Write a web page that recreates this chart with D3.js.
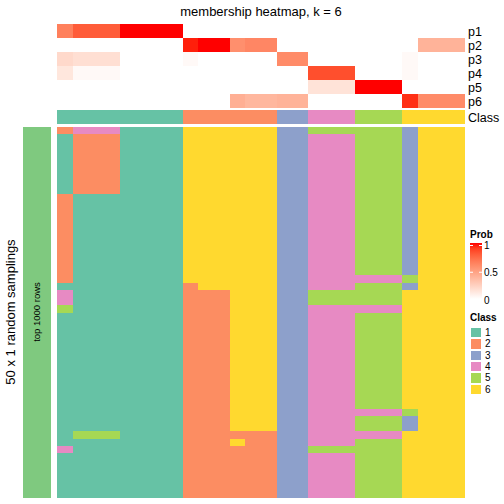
<!DOCTYPE html>
<html><head><meta charset="utf-8">
<script src="https://cdn.jsdelivr.net/npm/d3@7"></script>
<style>body{margin:0;background:#fff}svg{display:block}text{font-family:"Liberation Sans",Arial,sans-serif}rect{shape-rendering:crispEdges}</style>
</head><body><svg id="c" width="504" height="504"></svg>
<script>
// ---- data ----
const title = "membership heatmap, k = 6";
const probNames = ["p1","p2","p3","p4","p5","p6"];
const p1 = [0.65,0.8,0.8,0.8,1,1,1,1,0,0,0,0,0,0,0,0,0,0,0,0,0,0,0,0,0,0];
const p2 = [0,0,0,0,0,0,0,0,0.97,1,1,0.58,0.62,0.62,0,0,0,0,0,0,0,0,0,0.4,0.4,0.4];
const p3 = [0.2,0.17,0.17,0.17,0,0,0,0,0.03,0,0,0,0,0,0.6,0.6,0,0,0,0,0,0,0.03,0,0,0];
const p4 = [0.13,0.03,0.03,0.03,0,0,0,0,0,0,0,0,0,0,0,0,0.85,0.85,0.85,0,0,0,0.03,0,0,0];
const p5 = [0,0,0,0,0,0,0,0,0,0,0,0,0,0,0,0,0.15,0.15,0.15,1,1,1,0,0,0,0];
const p6 = [0,0,0,0,0,0,0,0,0,0,0,0.42,0.38,0.38,0.4,0.4,0,0,0,0,0,0,0.94,0.6,0.6,0.6];
const classAnno = [1,1,1,1,1,1,1,1,2,2,2,2,2,2,3,3,4,4,4,5,5,5,6,6,6,6];
const classLevels = ["1","2","3","4","5","6"];
const classColors = ["#66C2A5","#FC8D62","#8DA0CB","#E78AC3","#A6D854","#FFD92F"];
const samplingRows = [
"24441111666666335555553666",
"12221111666666334445553666",
"12221111666666334445553666",
"12221111666666334445553666",
"12221111666666334445553666",
"12221111666666334445553666",
"12221111666666334445553666",
"12221111666666334445553666",
"12221111666666334445553666",
"21111111666666334445553666",
"21111111666666334445553666",
"21111111666666334445553666",
"21111111666666334445553666",
"21111111666666334445553666",
"21111111666666334445553666",
"21111111666666334445553666",
"21111111666666334445553666",
"21111111666666334445553666",
"21111111666666334445553666",
"21111111666666334445553666",
"21111111666666334444445666",
"11111111266666334445553666",
"41111111222666335555556666",
"41111111222666335555556666",
"51111111222666334444446666",
"11111111222666334445556666",
"11111111222666334445556666",
"11111111222666334445556666",
"11111111222666334445556666",
"11111111222666334445556666",
"11111111222666334445556666",
"11111111222666334445556666",
"11111111222666334445556666",
"11111111222666334445556666",
"11111111222666334445556666",
"11111111222666334445556666",
"11111111222666334445556666",
"11111111222666334445556666",
"11111111222666334444445666",
"11111111222666334445553666",
"11111111222666334445553666",
"15551111222222334444446666",
"11111111222622334445556666",
"41111111222222335555556666",
"11111111222222334445556666",
"11111111222222334445556666",
"11111111222222334445556666",
"11111111222222334445556666",
"11111111222222334445556666",
"11111111222222334445556666"
];
const probTicks = [0, 0.5, 1];

// ---- drawing ----
const svg = d3.select("#c");
const probs = [p1,p2,p3,p4,p5,p6];
const nCol = classAnno.length;
const x = d3.scaleBand().domain(d3.range(nCol)).range([57,465]);
const yP = d3.scaleBand().domain(probNames).range([24,108]);
const yM = d3.scaleBand().domain(d3.range(samplingRows.length)).range([127,498]);
const probColor = d3.scaleLinear().domain([0,1]).range(["#FFFFFF","#FF0000"]).interpolate(d3.interpolateLab);
const classColor = d3.scaleOrdinal().domain(classLevels).range(classColors);
const cx = i => Math.round(x(i));
const cw = i => Math.round(x(i)+x.bandwidth()) - Math.round(x(i));
const ry = i => Math.round(yM(i));
const rh = i => Math.round(yM(i)+yM.bandwidth()) - Math.round(yM(i));

svg.append("text").attr("x",261).attr("y",16).attr("text-anchor","middle")
  .attr("font-size",13).text(title);

// probability rows
probs.forEach((arr,pi)=>{
  svg.append("g").selectAll("rect").data(arr).join("rect")
    .attr("x",(d,i)=>cx(i)).attr("width",(d,i)=>cw(i))
    .attr("y",yP(probNames[pi])).attr("height",yP.bandwidth())
    .attr("fill",d=>probColor(d));
  svg.append("text").attr("x",468).attr("y",yP(probNames[pi])+yP.bandwidth()/2+4.5)
    .attr("font-size",12.5).text(probNames[pi]);
});
// class annotation
svg.append("g").selectAll("rect").data(classAnno).join("rect")
  .attr("x",(d,i)=>cx(i)).attr("width",(d,i)=>cw(i))
  .attr("y",110).attr("height",14).attr("fill",d=>classColor(String(d)));
svg.append("text").attr("x",468).attr("y",121.5).attr("font-size",12.5).text("Class");

// main heatmap
samplingRows.forEach((row,ri)=>{
  svg.append("g").selectAll("rect").data(row.split("")).join("rect")
    .attr("x",(d,i)=>cx(i)).attr("width",(d,i)=>cw(i))
    .attr("y",ry(ri)).attr("height",rh(ri))
    .attr("fill",d=>classColor(d));
});

// left annotations
svg.append("rect").attr("x",23).attr("y",127).attr("width",28).attr("height",371).attr("fill","#7FC97F");
svg.append("text").attr("transform","translate(37,312) rotate(-90)").attr("text-anchor","middle")
  .attr("dy","0.35em").attr("font-size",9.5).text("top 1000 rows");
svg.append("text").attr("transform","translate(15,312) rotate(-90)").attr("text-anchor","middle")
  .attr("font-size",13).text("50 x 1 random samplings");

// Prob legend
svg.append("text").attr("x",470).attr("y",238).attr("font-size",10).attr("font-weight","bold").text("Prob");
const defs = svg.append("defs");
const grad = defs.append("linearGradient").attr("id","pg").attr("x1",0).attr("x2",0).attr("y1",1).attr("y2",0);
d3.range(0,1.01,0.1).forEach(t=>grad.append("stop").attr("offset",t).attr("stop-color",probColor(t)));
const yL = d3.scaleLinear().domain([0,1]).range([299,245.5]);
svg.append("rect").attr("x",470).attr("y",243).attr("width",12).attr("height",56).attr("fill","url(#pg)");
probTicks.forEach(t=>{
  if(t>0){
    svg.append("line").attr("x1",470).attr("x2",473).attr("y1",yL(t)).attr("y2",yL(t)).attr("stroke","#fff").attr("stroke-width",1);
    svg.append("line").attr("x1",479).attr("x2",482).attr("y1",yL(t)).attr("y2",yL(t)).attr("stroke","#fff").attr("stroke-width",1);
  }
  svg.append("text").attr("x",484).attr("y",yL(t)+(t===0?5:3.5)).attr("font-size",10).text(String(t));
});

// Class legend
svg.append("text").attr("x",470).attr("y",321).attr("font-size",10).attr("font-weight","bold").text("Class");
classLevels.forEach((c,i)=>{
  const yy = 327 + i*11.3;
  svg.append("rect").attr("x",470.5).attr("y",yy+0.5).attr("width",11).attr("height",10.3)
    .attr("fill",classColor(c)).attr("stroke","#fff").attr("stroke-width",1);
  svg.append("text").attr("x",485).attr("y",yy+9).attr("font-size",10).text(c);
});
</script></body></html>
